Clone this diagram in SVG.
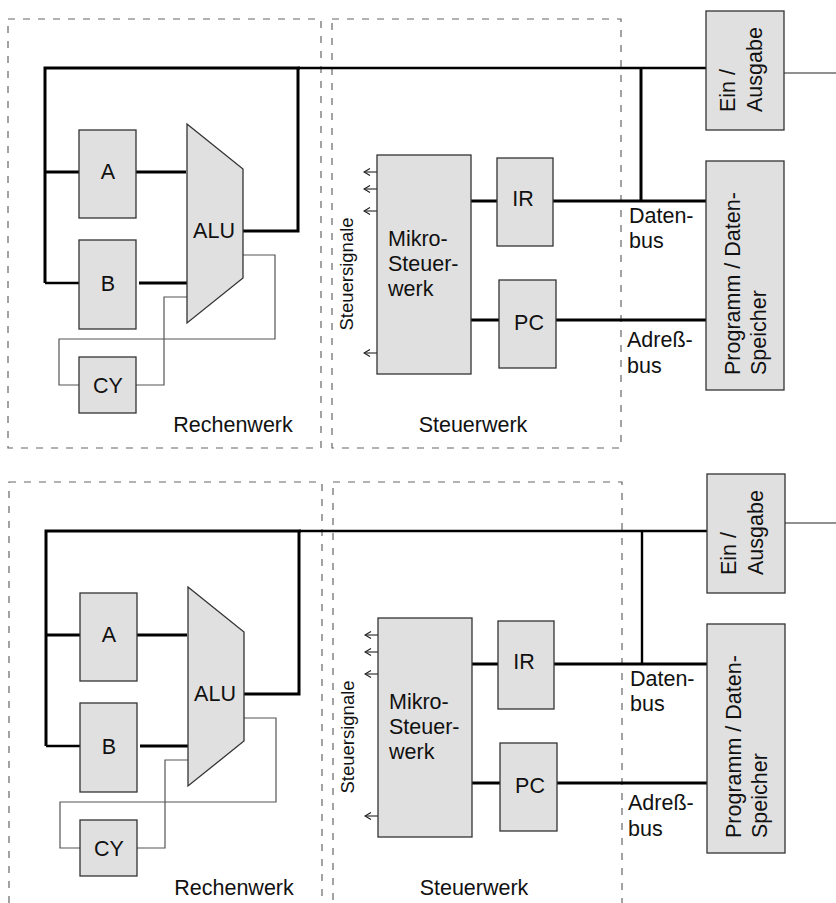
<svg xmlns="http://www.w3.org/2000/svg" width="836" height="903" viewBox="0 0 836 903">
<defs>
<style>
.bg{fill:#ffffff}
.box{fill:#e0e0e0;stroke:#333333;stroke-width:1.3}
.dash{fill:none;stroke:#666666;stroke-width:1.2;stroke-dasharray:7 8}
.bus{fill:none;stroke:#000000;stroke-width:3;stroke-linejoin:miter}
.bus2{fill:none;stroke:#000000;stroke-width:2.4}
.thin{fill:none;stroke:#555555;stroke-width:1.2}
.sig{fill:none;stroke:#222222;stroke-width:1.1}
text{font-family:"Liberation Sans",Arial,Helvetica,sans-serif;font-size:21.5px;fill:#111111}
.c{text-anchor:middle}
.small{font-size:18.5px}
</style>
<marker id="arr" viewBox="0 0 8 8" refX="7" refY="4" markerWidth="8" markerHeight="8" markerUnits="userSpaceOnUse" orient="auto">
<path d="M1,0.5 L7,4 L1,7.5" fill="none" stroke="#222222" stroke-width="1.2"/>
</marker>
</defs>
<rect class="bg" x="0" y="0" width="836" height="903"/>

<!-- ===== TOP HALF ===== -->
<g id="top">
<g id="top-rechenwerk"><rect class="dash" x="8" y="19" width="313" height="429"/><text x="233" y="432" class="c">Rechenwerk</text></g>
<g id="top-steuerwerk"><rect class="dash" x="332" y="19" width="289" height="429"/><text x="473" y="432" class="c">Steuerwerk</text></g>
<g id="top-connectors">
<path class="bus" d="M45,172 H79 M45,283 V68 H300"/>
<path class="bus2" d="M45,283 H79"/>
<path class="bus2" d="M298,68 H706"/>
<path class="bus" d="M136,172 H186"/>
<path class="bus" d="M139,283 H187"/>
<path class="bus" d="M243,231 H298 V68"/>
<path class="bus" d="M641,68 V201"/>
<path class="bus" d="M471,201 H497 M553,201 H706"/>
<path class="bus" d="M471,320 H499 M556,320 H706"/>
<path class="thin" d="M243,255 H275 V339 H59 V385 H79"/>
<path class="thin" d="M136,385 H164 V297 H187"/>
<path class="sig" d="M784,73 H836"/>
<path class="sig" marker-end="url(#arr)" d="M377,172 H364"/>
<path class="sig" marker-end="url(#arr)" d="M377,189 H364"/>
<path class="sig" marker-end="url(#arr)" d="M377,211 H364"/>
<path class="sig" marker-end="url(#arr)" d="M377,353 H364"/>
</g>
<g id="top-A"><rect class="box" x="79" y="130" width="57" height="88"/><text x="108" y="179" class="c">A</text></g>
<g id="top-B"><rect class="box" x="79" y="240" width="57" height="89"/><text x="108" y="291" class="c">B</text></g>
<g id="top-CY"><rect class="box" x="79" y="357" width="57" height="56"/><text x="108" y="393" class="c">CY</text></g>
<g id="top-ALU"><polygon class="box" points="187,124 243,169 243,278 187,323"/><text x="214" y="238" class="c">ALU</text></g>
<g id="top-mikro"><rect class="box" x="377" y="155" width="94" height="219"/><text x="388" y="246">Mikro-<tspan x="388" dy="25">Steuer-</tspan><tspan x="388" dy="25">werk</tspan></text></g>
<g id="top-steuersignale"><text class="small c" transform="translate(353,274) rotate(-90)">Steuersignale</text></g>
<g id="top-IR"><rect class="box" x="497" y="158" width="56" height="88"/><text x="523" y="206" class="c">IR</text></g>
<g id="top-PC"><rect class="box" x="499" y="280" width="57" height="88"/><text x="529" y="330" class="c">PC</text></g>
<g id="top-io"><rect class="box" x="706" y="11" width="78" height="119"/><text transform="translate(735,112) rotate(-90)">Ein /<tspan x="0" dy="27">Ausgabe</tspan></text></g>
<g id="top-speicher"><rect class="box" x="706" y="161" width="78" height="229"/><text transform="translate(740,375) rotate(-90)">Programm / Daten-<tspan x="0" dy="26">Speicher</tspan></text></g>
<g id="top-datenbus"><text x="629" y="223">Daten-<tspan x="629" dy="25">bus</tspan></text></g>
<g id="top-adressbus"><text x="627" y="347">Adreß-<tspan x="627" dy="26">bus</tspan></text></g>
</g>

<!-- ===== BOTTOM HALF ===== -->
<g id="bottom" transform="translate(1,463)">
<g id="bot-rechenwerk"><rect class="dash" x="8" y="19" width="313" height="460"/><text x="233" y="432" class="c">Rechenwerk</text></g>
<g id="bot-steuerwerk"><rect class="dash" x="332" y="19" width="289" height="460"/><text x="473" y="432" class="c">Steuerwerk</text></g>
<g id="bot-connectors">
<path class="bus" d="M45,172 H79 M45,283 V68 H300"/>
<path class="bus2" d="M45,283 H79"/>
<path class="bus2" d="M298,68 H706"/>
<path class="bus" d="M136,172 H186"/>
<path class="bus" d="M139,283 H187"/>
<path class="bus" d="M243,231 H298 V68"/>
<path class="bus2" d="M641,68 V201"/>
<path class="bus" d="M471,201 H497 M553,201 H706"/>
<path class="bus" d="M471,320 H499 M556,320 H706"/>
<path class="thin" d="M243,255 H275 V339 H59 V385 H79"/>
<path class="thin" d="M136,385 H164 V297 H187"/>
<path class="sig" d="M784,60 H836"/>
<path class="sig" marker-end="url(#arr)" d="M377,172 H364"/>
<path class="sig" marker-end="url(#arr)" d="M377,189 H364"/>
<path class="sig" marker-end="url(#arr)" d="M377,211 H364"/>
<path class="sig" marker-end="url(#arr)" d="M377,353 H364"/>
</g>
<g id="bot-A"><rect class="box" x="79" y="130" width="57" height="88"/><text x="108" y="179" class="c">A</text></g>
<g id="bot-B"><rect class="box" x="79" y="240" width="57" height="89"/><text x="108" y="291" class="c">B</text></g>
<g id="bot-CY"><rect class="box" x="79" y="357" width="57" height="56"/><text x="108" y="393" class="c">CY</text></g>
<g id="bot-ALU"><polygon class="box" points="187,124 243,169 243,278 187,323"/><text x="214" y="238" class="c">ALU</text></g>
<g id="bot-mikro"><rect class="box" x="377" y="155" width="94" height="219"/><text x="388" y="246">Mikro-<tspan x="388" dy="25">Steuer-</tspan><tspan x="388" dy="25">werk</tspan></text></g>
<g id="bot-steuersignale"><text class="small c" transform="translate(353,274) rotate(-90)">Steuersignale</text></g>
<g id="bot-IR"><rect class="box" x="497" y="158" width="56" height="88"/><text x="523" y="206" class="c">IR</text></g>
<g id="bot-PC"><rect class="box" x="499" y="280" width="57" height="88"/><text x="529" y="330" class="c">PC</text></g>
<g id="bot-io"><rect class="box" x="706" y="11" width="78" height="119"/><text transform="translate(735,112) rotate(-90)">Ein /<tspan x="0" dy="27">Ausgabe</tspan></text></g>
<g id="bot-speicher"><rect class="box" x="706" y="161" width="78" height="229"/><text transform="translate(740,375) rotate(-90)">Programm / Daten-<tspan x="0" dy="26">Speicher</tspan></text></g>
<g id="bot-datenbus"><text x="629" y="223">Daten-<tspan x="629" dy="25">bus</tspan></text></g>
<g id="bot-adressbus"><text x="627" y="347">Adreß-<tspan x="627" dy="26">bus</tspan></text></g>
</g>
</svg>
